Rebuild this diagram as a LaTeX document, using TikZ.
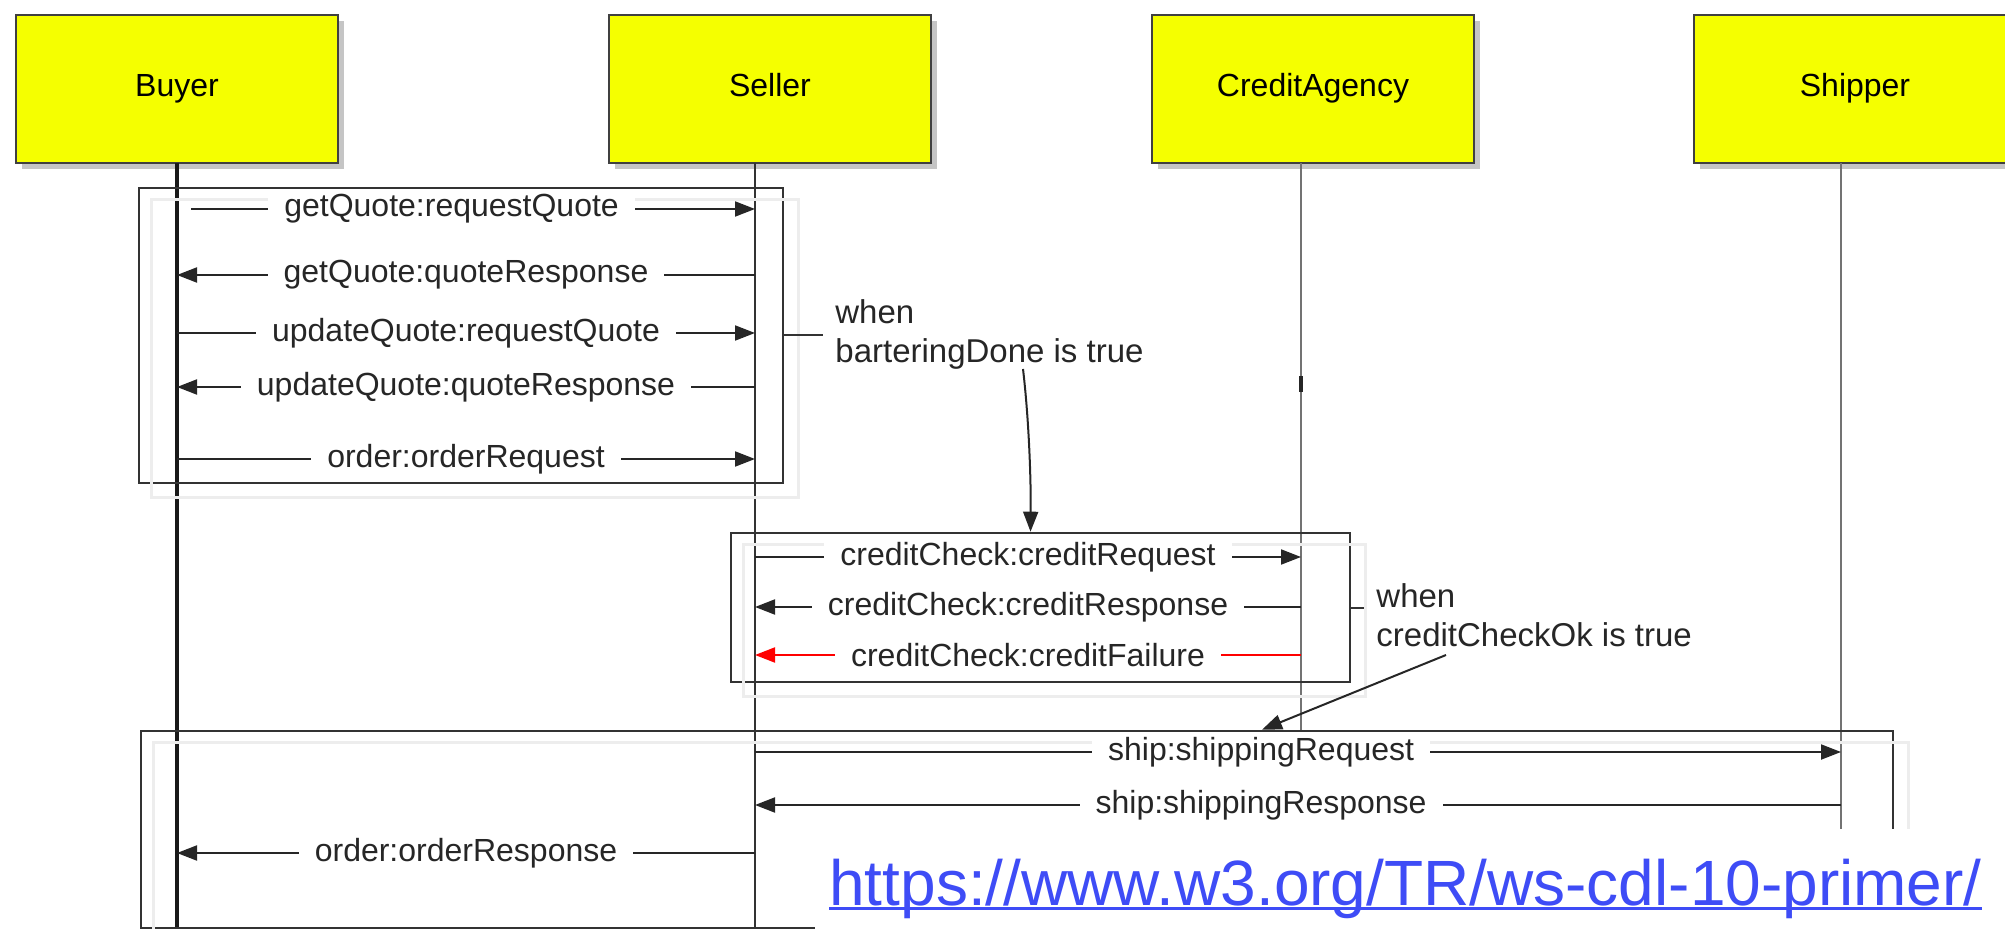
\documentclass[tikz,border=0pt]{standalone}
\usepackage{fontspec}
\setmainfont{Liberation Sans}
\usetikzlibrary{arrows.meta,shadows}
\definecolor{actoryellow}{RGB}{245,255,0}
\definecolor{linkblue}{RGB}{62,76,246}
\newcommand{\msgsize}{\fontsize{16}{19.5}\selectfont}
\begin{document}
\begin{tikzpicture}[x=0.5pt, y=-0.5pt,
    actor/.style={rectangle, draw=black!75, line width=1.3pt, fill=actoryellow,
      minimum width=161pt, minimum height=74pt, font=\msgsize, text height=11.5pt, text depth=3.5pt,
      drop shadow={shadow xshift=3pt, shadow yshift=-3pt, fill=black!45, opacity=0.5}},
    life/.style={line width=1pt, black!55},
    frame/.style={rectangle, draw=black!80, line width=1.3pt},
    ghost/.style={draw=black!7, line width=1.5pt},
    msg/.style={line width=1pt, black!85, -{Triangle[length=10pt, width=7.5pt]}},
    lbl/.style={fill=white, inner xsep=8pt, inner ysep=1pt, text=black!85, font=\msgsize},
    note/.style={align=left, inner sep=6pt, text=black!85, font=\fontsize{16.5}{19.5}\selectfont}]
  \useasboundingbox (0,0) rectangle (2005,929);
  \foreach \n/\t/\x in {buyer/Buyer/177, seller/Seller/770, credit/CreditAgency/1313, shipper/Shipper/1855}
    \node[actor] (\n) at (\x,89) {\t};
  \foreach \n/\x in {buyer/177, seller/755, credit/1301, shipper/1841}
    \foreach \m/\y in {top/163, bot/929, q1/209, q2/275, q3/333, q4/387, q5/459, c1/557, c2/607, c3/655, h1/752, h2/805, h3/853}
      \coordinate (\n-\m) at (\x,\y);
  \coordinate (credit-end) at (1301,731);
  \draw[life, line width=2pt, black!90] (buyer-top) -- (buyer-bot);
  \draw[life, line width=1.2pt, black!80] (seller-top) -- (seller-bot);
  \draw[life] (credit-top) -- (credit-end);
  \draw[life] (shipper-top) -- (shipper-bot);
  \draw[line width=2pt, black!85] (1301,376) -- (1301,392);

  \node[frame, minimum width=322pt, minimum height=147.5pt] (barter) at (461,335.5) {};
  \node[frame, minimum width=309.5pt, minimum height=74.5pt] (crcheck) at (1040.5,607.5) {};
  \node[frame, minimum width=876pt, minimum height=98.5pt] (shipping) at (1017,829.5) {};
  \foreach \f in {barter, crcheck, shipping}
    \draw[ghost] ([shift={(7pt,-6.5pt)}]\f.north west) rectangle ([shift={(7pt,-6.5pt)}]\f.south east);

  \draw[msg, shorten <=7pt] (buyer-q1) -- node[lbl, pos=0.475] {getQuote:requestQuote} (seller-q1);
  \draw[msg] (seller-q2) -- node[lbl] {getQuote:quoteResponse} (buyer-q2);
  \draw[msg] (buyer-q3) -- node[lbl] {updateQuote:requestQuote} (seller-q3);
  \draw[msg] (seller-q4) -- node[lbl] {updateQuote:quoteResponse} (buyer-q4);
  \draw[msg] (buyer-q5) -- node[lbl] {order:orderRequest} (seller-q5);
  \draw[msg] (seller-c1) -- node[lbl] {creditCheck:creditRequest} (credit-c1);
  \draw[msg] (credit-c2) -- node[lbl] {creditCheck:creditResponse} (seller-c2);
  \draw[msg, red] (credit-c3) -- node[lbl] {creditCheck:creditFailure} (seller-c3);
  \draw[msg] (seller-h1) -- node[lbl, pos=0.466] {ship:shippingRequest} (shipper-h1);
  \draw[msg] (shipper-h2) -- node[lbl, pos=0.534] {ship:shippingResponse} (seller-h2);
  \draw[msg] (seller-h3) -- node[lbl] {order:orderResponse} (buyer-h3);

  \node[note, anchor=west] (whenA) at (823,334) {when\\barteringDone is true};
  \node[note, anchor=west] (whenB) at (1364,615.5) {when\\creditCheckOk is true};
  \draw[line width=1pt, black!80] (barter.east) -- (barter.east -| whenA.west);
  \draw[line width=1pt, black!80] (crcheck.east) -- (crcheck.east -| whenB.west);
  \coordinate (doneA) at (1023,369);
  \coordinate (okB) at (1446,655);
  \draw[msg] (doneA) .. controls (1029,420) and (1031,480) .. ([xshift=-5pt]crcheck.north);
  \draw[msg] (okB) -- ([xshift=122.5pt]shipping.north);

  \fill[white] (815,829) rectangle (2005,929);
  \node[anchor=base west, inner sep=0pt, text=linkblue, font=\fontsize{32}{38}\selectfont] (link) at (829,905) {https://www.w3.org/TR/ws-cdl-10-primer/};
  \draw[linkblue, line width=1.5pt] ([yshift=-1.5pt]link.base west) -- ([yshift=-1.5pt]link.base east);
\end{tikzpicture}
\end{document}
